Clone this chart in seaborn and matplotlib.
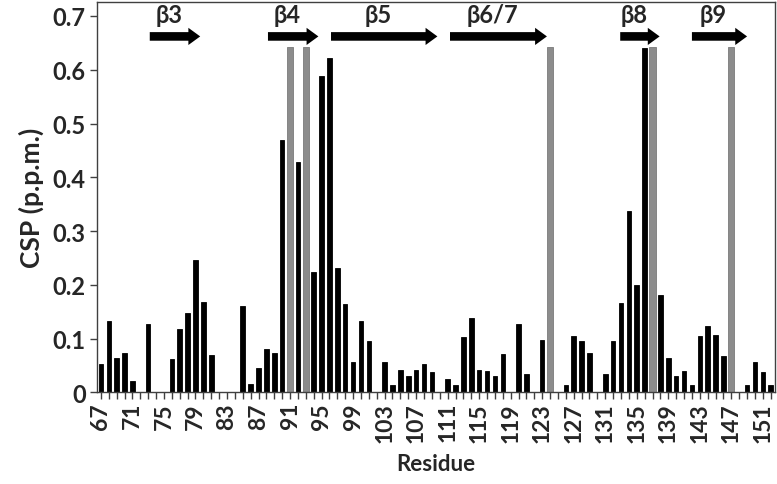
import numpy as np
import pandas as pd
import matplotlib.pyplot as plt
from matplotlib.patches import FancyArrow
import seaborn as sns

# ----- data -----
residue = [67, 68, 69, 70, 71, 73, 76, 77, 78, 79, 80, 81, 85, 86, 87, 88, 89, 90,
           92, 94, 95, 96, 97, 98, 99, 100, 101, 103, 104, 105, 106, 107, 108, 109,
           111, 112, 113, 114, 115, 116, 117, 118, 120, 121, 123, 126, 127, 128, 129,
           131, 132, 133, 134, 135, 136, 138, 139, 140, 141, 142, 143, 144, 145, 146,
           149, 150, 151, 152]
csp = [0.053, 0.133, 0.064, 0.073, 0.021, 0.128, 0.062, 0.118, 0.148, 0.247, 0.168,
       0.069, 0.160, 0.015, 0.045, 0.080, 0.073, 0.470, 0.429, 0.223, 0.588, 0.622,
       0.231, 0.164, 0.057, 0.133, 0.096, 0.057, 0.014, 0.042, 0.030, 0.042, 0.053,
       0.037, 0.025, 0.014, 0.102, 0.138, 0.042, 0.039, 0.030, 0.071, 0.128, 0.035,
       0.098, 0.014, 0.104, 0.095, 0.074, 0.034, 0.096, 0.166, 0.337, 0.200, 0.641,
       0.181, 0.063, 0.030, 0.040, 0.014, 0.104, 0.123, 0.107, 0.068, 0.014, 0.056,
       0.038, 0.014]

# residues marked with grey full-height bars
grey_residue = [91, 93, 124, 137, 147]
grey_csp = [0.642, 0.642, 0.642, 0.642, 0.642]

# beta strands (start, end residue)
strand_names = ['β3', 'β4', 'β5', 'β6/7', 'β8', 'β9']
strand_start = [73.2, 88.2, 96.2, 111.3, 132.9, 142.0]
strand_end = [79.6, 94.6, 109.7, 123.6, 137.9, 149.0]

df = pd.DataFrame({'Residue': residue, 'CSP': csp})
df_grey = pd.DataFrame({'Residue': grey_residue, 'CSP': grey_csp})

sns.set_theme(style='white')
plt.rcParams['font.family'] = ['Lato', 'DejaVu Sans']
plt.rcParams['font.weight'] = 'bold'

fig = plt.figure(figsize=(7.77, 4.85), dpi=100)
ax = fig.add_axes([0.1248, 0.189, 0.8722, 0.8048])

sns.barplot(data=df, x='Residue', y='CSP', native_scale=True, width=0.6,
            color='black', edgecolor='black', linewidth=0.6, saturation=1, ax=ax)
n_black = len(ax.patches)
sns.barplot(data=df_grey, x='Residue', y='CSP', native_scale=True, width=0.6,
            color='#8c8c8c', edgecolor='#7a7a7a', linewidth=0.6, saturation=1, ax=ax)

# fix bar widths (seaborn scales width by the gap between x values)
for i, bar in enumerate(ax.patches):
    w = 0.58 if i < n_black else 0.78
    cx = bar.get_x() + bar.get_width() / 2
    bar.set_x(cx - w / 2)
    bar.set_width(w)

# strand arrows
y_arrow = 0.662
for name, s, e in zip(strand_names, strand_start, strand_end):
    ax.add_patch(FancyArrow(s, y_arrow, e - s, 0, width=0.016, head_width=0.032,
                            head_length=1.5, length_includes_head=True,
                            color='black', lw=0))
    ax.text((s + e - 1.5) / 2, 0.703, name, ha='center', va='center',
            fontsize=17, fontweight='bold')

ax.set_xlim(66.5, 152.5)
ax.set_ylim(0, 0.726)
ax.set_xticks(np.arange(67, 152, 4))
ax.set_xticklabels([str(v) for v in np.arange(67, 152, 4)], rotation=90,
                   fontsize=16.5, fontweight='bold')
ax.set_xticks(np.arange(67, 153, 1), minor=True)
ax.set_yticks([0, 0.1, 0.2, 0.3, 0.4, 0.5, 0.6, 0.7])
ax.set_yticklabels(['0', '0.1', '0.2', '0.3', '0.4', '0.5', '0.6', '0.7'],
                   fontsize=17, fontweight='bold')
ax.tick_params(axis='both', which='both', direction='out', color='#404040',
               length=5, width=1, bottom=True, left=True)
ax.tick_params(axis='x', which='both', length=5, pad=2)
ax.tick_params(axis='y', pad=3)

for sp in ax.spines.values():
    sp.set_visible(True)
    sp.set_color('#404040')
    sp.set_linewidth(1.0)

ax.set_xlabel('Residue', fontsize=16, fontweight='bold', labelpad=8)
ax.set_ylabel('CSP (p.p.m.)', fontsize=19, fontweight='bold', labelpad=6)

fig.savefig('out.png', dpi=100)
